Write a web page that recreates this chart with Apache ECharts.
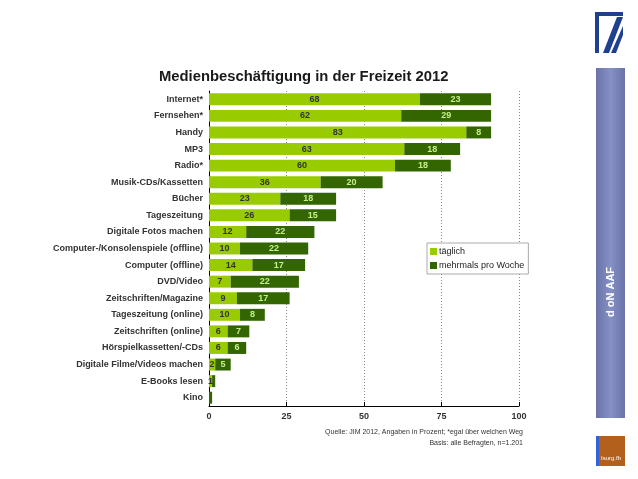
<!DOCTYPE html>
<html><head><meta charset="utf-8">
<script src="https://cdn.jsdelivr.net/npm/echarts@6/dist/echarts.min.js"></script>
<style>html,body{margin:0;padding:0;background:#fff}#c{width:638px;height:479px}</style>
</head><body><div id="c"></div>
<script>
const categories = ["Internet*","Fernsehen*","Handy","MP3","Radio*","Musik-CDs/Kassetten","Bücher","Tageszeitung","Digitale Fotos machen","Computer-/Konsolenspiele (offline)","Computer (offline)","DVD/Video","Zeitschriften/Magazine","Tageszeitung (online)","Zeitschriften (online)","Hörspielkassetten/-CDs","Digitale Filme/Videos machen","E-Books lesen","Kino"];
const taeglich = [68,62,83,63,60,36,23,26,12,10,14,7,9,10,6,6,2,1,0];
const mehrmals = [23,29,8,18,18,20,18,15,22,22,17,22,17,8,7,6,5,1,1];
const xTicks = [0,25,50,75,100];
const chart = echarts.init(document.getElementById('c'));
const F = 'Liberation Sans, Arial, sans-serif';
chart.setOption({
  animation:false,
  title:{text:'Medienbeschäftigung in der Freizeit 2012',left:154,top:64,textStyle:{fontFamily:F,fontSize:14.8,fontWeight:'bold',color:'#1a1a1a'}},
  legend:{orient:'vertical',left:427,top:243,itemWidth:7,itemHeight:7,itemGap:5,padding:[4,4,4,3],borderColor:'#aaa',borderWidth:1,backgroundColor:'#fff',
    textStyle:{fontFamily:F,fontSize:9,color:'#222',padding:[0,0,0,-3]},data:['täglich','mehrmals pro Woche'],icon:'rect'},
  grid:{left:209,right:119,top:91,bottom:73,containLabel:false},
  xAxis:{type:'value',min:0,max:100,interval:25,
    axisLine:{show:true,lineStyle:{color:'#000',width:1}},
    axisTick:{show:true,inside:true,length:4,lineStyle:{color:'#000'}},
    axisLabel:{fontFamily:F,fontSize:9,fontWeight:'bold',color:'#333',margin:6,formatter:v=>xTicks.includes(v)?String(v):''},
    splitLine:{show:true,lineStyle:{color:'#888',type:[1,2],width:1}}},
  yAxis:{type:'category',inverse:true,data:categories,
    axisLine:{show:true,lineStyle:{color:'#000'}},axisTick:{show:false},
    axisLabel:{fontFamily:F,fontSize:9,fontWeight:'bold',color:'#333',margin:6}},
  series:[
    {name:'täglich',type:'bar',stack:'s',data:taeglich,barWidth:'72%',itemStyle:{color:'#99cc00'},
      label:{show:true,position:'inside',fontFamily:F,fontSize:9,fontWeight:'bold',color:'#333',formatter:p=>p.value>0?p.value:''}},
    {name:'mehrmals pro Woche',type:'bar',stack:'s',data:mehrmals,barWidth:'72%',itemStyle:{color:'#336600'},
      label:{show:true,position:'inside',fontFamily:F,fontSize:9,fontWeight:'bold',color:'#c6ef8a',formatter:p=>p.value>1?p.value:''}}
  ],
  graphic:[
    {type:'polygon',shape:{points:[[595,12],[623,12],[623,16],[599,16],[599,53],[595,53]]},style:{fill:'#1f3f8f'}},
    {type:'polygon',shape:{points:[[617,17],[623,17],[609,53],[603,53]]},style:{fill:'#1f3f8f'}},
    {type:'polygon',shape:{points:[[623,26],[623,35],[616,53],[611,53]]},style:{fill:'#1f3f8f'}},
    {type:'rect',shape:{x:596,y:68,width:29,height:350},style:{fill:new echarts.graphic.LinearGradient(0,0,1,0,[{offset:0,color:'#6a73a8'},{offset:0.5,color:'#8590c4'},{offset:1,color:'#6a73a8'}])}},
    {type:'text',x:611,y:292,rotation:Math.PI/2,style:{text:'d oN AAF',fill:'#fff',font:'bold 11px '+F,align:'center',verticalAlign:'middle'}},
    {type:'rect',shape:{x:596,y:436,width:29,height:30},style:{fill:'#b3601c'}},
    {type:'rect',shape:{x:596,y:436,width:3,height:30},style:{fill:'#2f63d6'}},
    {type:'text',x:601,y:455,style:{text:'Isurg.fb',fill:'#fff',font:'6px '+F}},
    {type:'text',right:115,top:429,style:{text:'Quelle: JIM 2012, Angaben in Prozent; *egal über welchen Weg',fill:'#333',font:'7px '+F,align:'right'}},
    {type:'text',right:115,top:440,style:{text:'Basis: alle Befragten, n=1.201',fill:'#333',font:'7px '+F,align:'right'}}
  ]
});
</script></body></html>
